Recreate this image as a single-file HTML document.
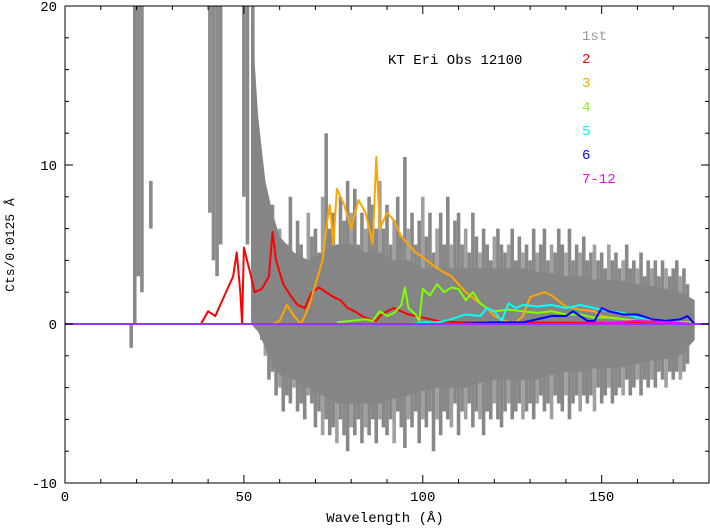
<!DOCTYPE html>
<html><head><meta charset="utf-8"><style>
body{margin:0;background:#fff;}
svg text{font-family:"Liberation Mono",monospace;}
</style></head><body>
<svg id="chart" width="710" height="527" xmlns="http://www.w3.org/2000/svg">
<g id="plot"></g>
<g id="axes"></g>
<text x="388" y="64" font-size="14">KT Eri Obs 12100</text>
<g font-size="14">
<text x="582" y="40" fill="#999999">1st</text>
<text x="582" y="63" fill="#ff0000">2</text>
<text x="582" y="87" fill="#ffa500">3</text>
<text x="582" y="111" fill="#7fff00">4</text>
<text x="582" y="135" fill="#00ffff">5</text>
<text x="582" y="159" fill="#0000ff">6</text>
<text x="582" y="183" fill="#ff00ff">7-12</text>
</g>
<text x="385" y="522" font-size="14" text-anchor="middle">Wavelength (Å)</text>
<text x="0" y="0" font-size="13" text-anchor="middle" transform="translate(14,245) rotate(-90)">Cts/0.0125 Å</text>
</svg>
<script>
const envWl=[52,54,56,58,60,64,68,72,76,80,84,88,92,96,100,104,108,112,116,120,124,128,132,136,140,144,148,152,156,160,164,168,172,176];
const envUp=[20,13,9,7,5.5,4.5,4,4.5,5,5,4.5,4.5,4,4,3.5,3.5,3.5,3.5,3.5,3.5,3.5,3.5,3.3,3.2,3,3,2.8,2.8,2.7,2.5,2.4,2.2,2,1.5];
const envLo=[0,-0.5,-1.5,-2.5,-3.2,-3.5,-4,-4.5,-5,-5,-5,-5,-4.7,-4.5,-4.2,-4,-4,-4,-3.7,-3.5,-3.5,-3.5,-3.5,-3.2,-3,-3,-2.8,-2.8,-2.7,-2.5,-2.3,-2.2,-2,-1];
const colWl=[18.5,19.5,20.5,21.5,24,40.5,41.5,42.5,43.5,50,51,52.5];
const colTop=[0,20,20,20,9,20,20,20,20,20,20,20];
const colBot=[-1.5,0,3,2,6,7,4,3,5,8,5,1];
const spkUp=[9,8,6,7.5,5,6,4.5,5,8,4,6.5,5,4,7,5.5,6,4.5,8,12,6,7,5,8,6.5,9,7,8.5,5,7,6,8,7.5,6,9,6,7.5,5,6.5,8,5.5,10.5,6,7,5,6.5,8,5.5,7,4.5,6,7,5,8,5,6.5,7,5,6,4.5,7,5.5,4.5,6,5,4,5.5,6,5,4.5,5,6,4,5.5,4.5,5,4,6,4.5,5,6,4,5,4.5,6,5,4.5,6,4,5,4.5,5.5,4,4.5,5,4,4.5,3.5,5,4,4.5,3.5,4,5,3.5,4,3.5,4.5,3,4,3.5,4,3,4,3.5,3,3.5,4,3,3.5,2.5];
const spkLo=[-1,-2,-3.5,-3,-4.5,-4,-5.5,-4.5,-5,-4,-5.5,-5,-6,-4.5,-5,-6.5,-5.5,-7,-6,-7,-6.5,-7.5,-6,-7,-8,-6.5,-7,-6,-7.5,-6.5,-7,-6,-7.5,-6,-6.5,-7,-6,-7.5,-5.5,-6.5,-7.8,-6,-6.5,-5.5,-7.5,-6,-6.5,-5.5,-8,-6,-7,-5.5,-6,-6.5,-5,-7,-5.5,-6,-5,-6.5,-5.5,-6,-7,-5.5,-6,-5,-6,-6.5,-5.5,-5,-6,-5.5,-5,-6,-5.5,-5,-6,-5,-4.5,-5.5,-5,-6,-4.5,-5,-5.5,-4.5,-6,-5,-4.5,-5.5,-4.5,-5,-4.5,-5.5,-4,-5,-4.5,-4,-5,-4.5,-4,-4.5,-3.5,-4.5,-4,-3.5,-4.5,-3.5,-4,-3.5,-4,-3,-3.5,-4,-3,-3.5,-3,-3.5,-3,-2.5,-3,-2];
const redWl=[38,40,42,44,46,47,48,49,49.5,50,52,53,55,57,58,59,61,63,65,67,69,71,73,75,77,79,81,83,85,87,88,90,92,94,96,98,100,104,110,120,176];
const redVal=[0,0.8,0.5,1.5,2.5,3,4.5,2,0,4.8,3,2,2.2,3,5.8,4,2.5,1.8,1.2,1,2,2.3,2,1.7,1.5,1,0.8,0.5,0.3,0.2,0.5,0.8,1,0.8,0.6,0.5,0.4,0.2,0.1,0.1,0.05];
const orWl=[58,60,62,64,66,68,70,72,73,74,75,76,78,80,82,84,86,87,88,90,92,94,96,98,100,104,108,112,116,118,120,122,124,126,128,130,134,136,140,144,148,150,156,160,170,176];
const orVal=[0,0.2,1.2,0.5,0,1,2.5,4,6,7.5,5,8.5,7.5,6,7.8,7,5,10.5,6,7,6.5,5.5,5,4.5,4.2,3.5,3,2,1.3,1,0.5,0.3,0.1,0.1,0.5,1.7,2,1.8,1.1,0.9,0.8,0.5,0.3,0.2,0.1,0];
const grWl=[76,80,84,86,88,90,92,94,95,96,98,99,100,102,104,106,108,110,112,114,116,118,120,124,128,132,136,140,144,148,152,156,160,176];
const grVal=[0.1,0.2,0.3,0.2,0.8,0.5,0.7,1.2,2.3,1,0.6,0.2,2.2,1.8,2.5,2,2.3,2.2,1.5,2,1.3,1,0.8,0.9,0.8,0.7,0.8,0.6,0.6,0.4,0.4,0.3,0.2,0.1];
const cyWl=[97,100,104,108,112,116,118,120,122,124,126,128,132,136,140,144,148,152,156,160,164,168,176];
const cyVal=[0,0.1,0.1,0.3,0.6,0.5,1,0.8,0.2,1.3,1,1.2,1.1,1.2,1,1.2,1,0.8,0.7,0.4,0.3,0.2,0];
const blWl=[110,120,128,132,136,140,142,144,146,148,150,152,156,160,164,168,172,174,176];
const blVal=[0,0.1,0.1,0.3,0.5,0.5,0.8,0.5,0.2,0.2,1.0,0.8,0.6,0.6,0.3,0.2,0.3,0.5,0];
const mgWl=[140,150,160,170,176];
const mgVal=[0,0.05,0.2,0.1,0];
const xTicks=[0,50,100,150];
const yTicks=[-10,0,10,20];

const X0=65,X1=709,Y0=6,Y1=483;
const xs=w=>X0+(X1-X0)*w/180;
const ys=v=>Math.max(Y0,Math.min(Y1,Y1-(Y1-Y0)*(v+10)/30));
const NS='http://www.w3.org/2000/svg';
const plot=document.getElementById('plot'),axes=document.getElementById('axes');
function mk(tag,attrs,parent){const e=document.createElementNS(NS,tag);for(const k in attrs)e.setAttribute(k,attrs[k]);parent.appendChild(e);return e;}

colWl.forEach((w,i)=>{
  const l=mk('line',{x1:xs(w),x2:xs(w),y1:ys(colBot[i]),y2:ys(colTop[i]),stroke:'#8a8a8a','stroke-width':3.6},plot);
  
  
});
spkUp.forEach((v,i)=>{
  const w=55+i;
  const l=mk('line',{x1:xs(w),x2:xs(w),y1:ys(spkLo[i]),y2:ys(v),stroke:(i%4===1?'#a0a0a0':'#888888'),'stroke-width':3.6},plot);
  
  
});
let pts=envWl.map((w,i)=>xs(w)+','+ys(envUp[i]));
pts=pts.concat(envWl.slice().reverse().map((w,j)=>xs(w)+','+ys(envLo[envWl.length-1-j])));
const env=mk('polygon',{points:pts.join(' '),fill:'#858585'},plot);



function series(wl,val,color,name){
  const d=wl.map((w,i)=>(i?'L':'M')+xs(w)+','+ys(val[i])).join('');
  const p=mk('path',{d:d,fill:'none',stroke:color,'stroke-width':2,'stroke-linejoin':'round'},plot);
  
  
}
series(redWl,redVal,'#ff0000','order-2-line');
series(orWl,orVal,'#ffa500','order-3-line');
series(grWl,grVal,'#7fff00','order-4-line');
series(cyWl,cyVal,'#00ffff','order-5-line');
series(blWl,blVal,'#0000ff','order-6-line');
series(mgWl,mgVal,'#ff00ff','order-7-12-line');
const z=mk('line',{x1:X0,x2:X1,y1:ys(0),y2:ys(0),stroke:'#9933ff','stroke-width':2},plot);



const f=mk('rect',{x:X0,y:Y0,width:X1-X0,height:Y1-Y0,fill:'none',stroke:'#000','stroke-width':1},axes);


for(let w=0;w<=180;w+=10){
  const L=(w%50===0)?8:4;
  mk('line',{x1:xs(w),x2:xs(w),y1:Y1,y2:Y1-L,stroke:'#000'},axes);
  mk('line',{x1:xs(w),x2:xs(w),y1:Y0,y2:Y0+L,stroke:'#000'},axes);
}
for(let v=-10;v<=20;v+=2){
  const L=(v%10===0)?8:4;
  mk('line',{x1:X0,x2:X0+L,y1:ys(v),y2:ys(v),stroke:'#000'},axes);
  mk('line',{x1:X1,x2:X1-L,y1:ys(v),y2:ys(v),stroke:'#000'},axes);
}
xTicks.forEach(t=>{
  const e=mk('text',{x:xs(t),y:501,'font-size':14,'text-anchor':'middle'},axes);
  e.textContent=t;
  
  
});
yTicks.forEach(t=>{
  const e=mk('text',{x:57,y:ys(t)+5,'font-size':14,'text-anchor':'end'},axes);
  e.textContent=t;
  
  
});
</script>
</body></html>
